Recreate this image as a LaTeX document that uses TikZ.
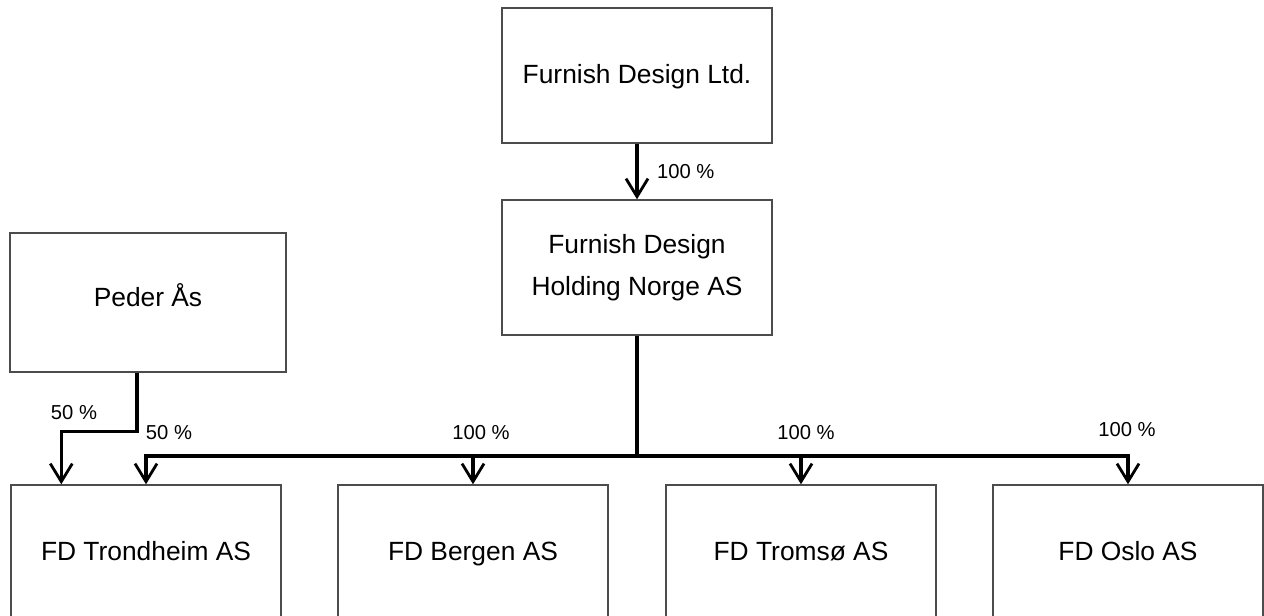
\documentclass[tikz,border=0pt]{standalone}
\usepackage{fontspec}
\setmainfont{Liberation Sans}
\usetikzlibrary{arrows.meta}
\tikzset{
  firm/.style={draw=black!70,line width=0.8pt,minimum width=54mm,minimum height=27mm,
    align=center,font=\fontsize{15}{24}\selectfont},
  unit/.style={firm,text height=0.95em,text depth=0.05em},
  share/.style={line width=1.9pt,-{Straight Barb[length=3.6mm,width=4.4mm,line width=1.6pt]}},
  pct/.style={font=\fontsize{11.5}{14}\selectfont}
}
\begin{document}
\begin{tikzpicture}[x=0.2mm,y=-0.2mm]
                    \useasboundingbox (0,0) rectangle (1264,616);
                    \node[unit] (ltd) at (637,75.5) {Furnish Design Ltd.};
                    \node[firm] (holding) at (637,267.5) {Furnish Design\\Holding Norge AS};
                    \node[firm,text height=0.75em,text depth=0.25em,minimum width=55.2mm,minimum height=27.8mm] (peder) at (148,302.5) {Peder Ås};
                    \node[unit] (trondheim) at (146,552.5) {FD Trondheim AS};
                    \node[unit] (bergen) at (473,552.5) {FD Bergen AS};
                    \node[unit] (tromso) at (801,552.5) {FD Tromsø AS};
                    \node[unit] (oslo) at (1128,552.5) {FD Oslo AS};
                    \coordinate (bus) at (637,456);
                    \draw[share] (ltd) -- node[pct,right=2.5mm] {100 \%} (holding);
                    \draw[line width=1.9pt] (holding) -- (bus);
                    \draw[share] (bus) -| (trondheim);
                    \draw[share] (bus) -| (bergen);
                    \draw[share] (bus) -| (tromso);
                    \draw[share] (bus) -| (oslo);
                    \draw[share] ([xshift=-2.2mm]peder.south) -- ++(0,59) -| ([xshift=10.2mm]trondheim.north west);
                    \node[pct] at (74,413) {50 \%};
                    \node[pct] at (169,433) {50 \%};
                    \node[pct] at (481,433) {100 \%};
                    \node[pct] at (806,433) {100 \%};
                    \node[pct] at (1127,430) {100 \%};
                \end{tikzpicture}
\end{document}
